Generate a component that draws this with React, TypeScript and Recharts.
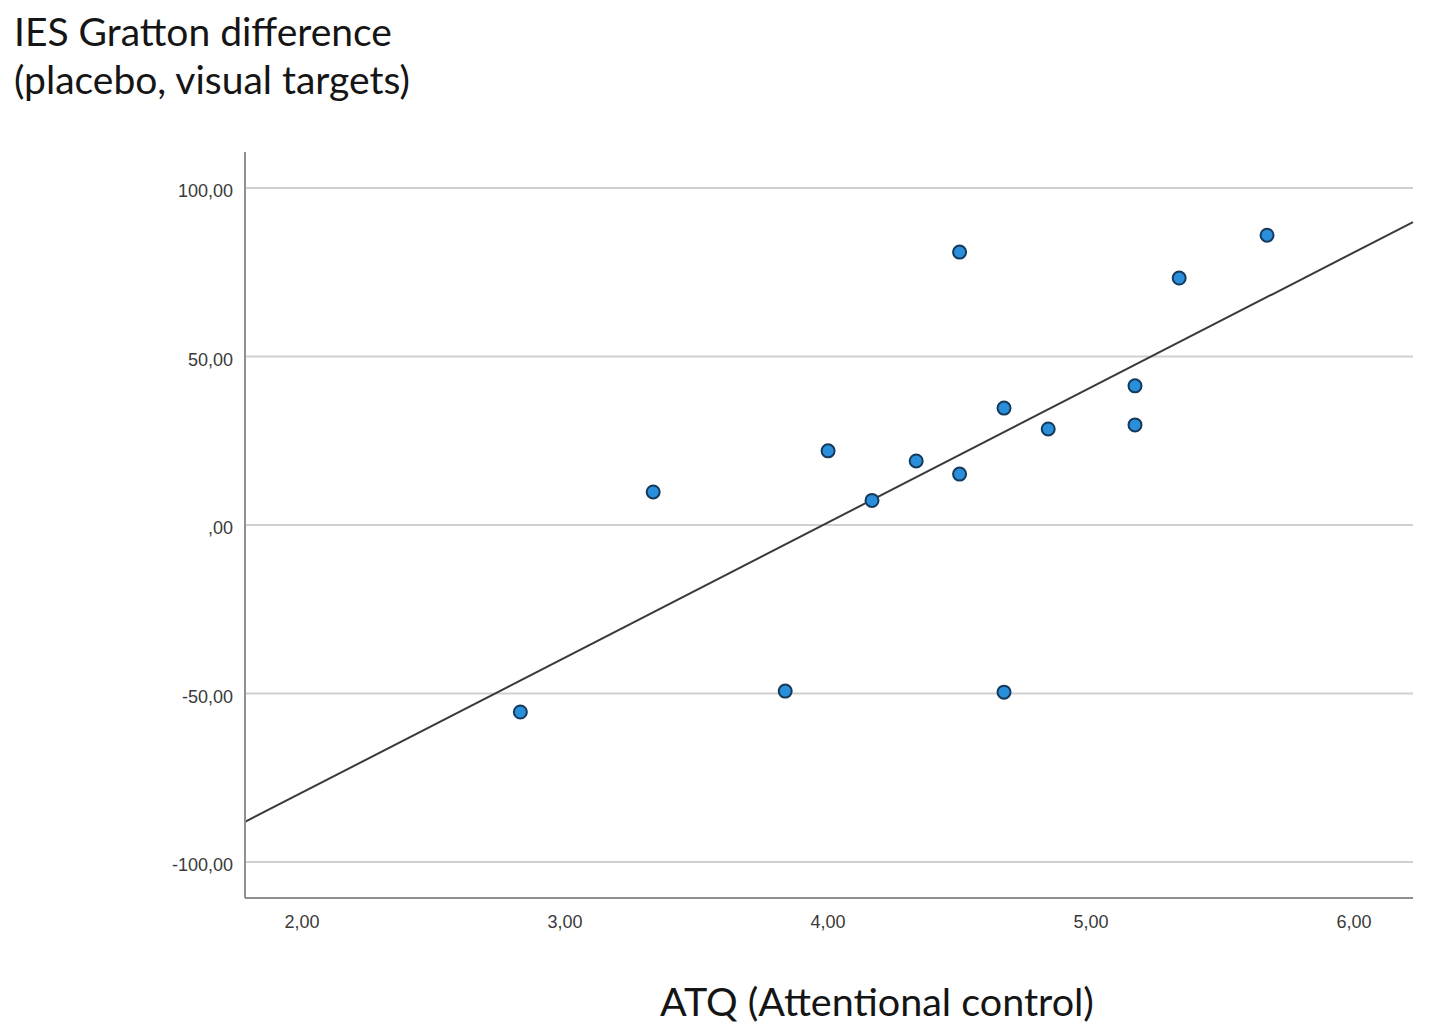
import { ScatterChart, Scatter, XAxis, YAxis, ReferenceLine } from 'recharts'

// ATQ score and IES Gratton difference per participant
const atq = [2.83, 3.335, 3.837, 4.0, 4.167, 4.335, 4.5, 4.5, 4.669, 4.669, 4.837, 5.167, 5.167, 5.335, 5.669]
const iesDiff = [-55.5, 9.8, -49.3, 22.0, 7.3, 19.0, 81.0, 15.1, 34.7, -49.6, 28.5, 41.3, 29.7, 73.3, 86.0]

// fitted regression line, at the edges of the x range
const fitX = [1.783, 6.224]
const fitY = [-88.1, 89.9]

const xTicks = [2, 3, 4, 5, 6]
const yTicks = [-100, -50, 0, 50, 100]

const points = atq.map((x, i) => ({ x, y: iesDiff[i] }))

const fmt = (v: number) => (v === 0 ? ',00' : v.toFixed(2).replace('.', ','))

const Dot = (props: any) => (
  <circle cx={props.cx} cy={props.cy} r={6.5} fill="#2a8fdb" stroke="#163a5c" strokeWidth={2} />
)

const tickStyle = { fill: '#3a3a3a', fontSize: 18, fontFamily: '"Liberation Sans", Arial, sans-serif' }

export default function App() {
  return (
    <div style={{ position: 'absolute', left: 0, top: 0, width: 1429, height: 1029, background: '#fff' }}>
      <div
        style={{
          position: 'absolute',
          left: 14,
          top: 7,
          fontFamily: 'Lato, sans-serif',
          fontSize: 39,
          lineHeight: '48px',
          color: '#151515',
        }}
      >
        IES Gratton difference
        <br />
        (placebo, visual targets)
      </div>
      <ScatterChart width={1429} height={1029} margin={{ top: 152, left: 185, right: 16, bottom: 91 }}>
        {yTicks.map((t) => (
          <ReferenceLine key={t} y={t} stroke="#d0d0d0" strokeWidth={2} />
        ))}
        <XAxis
          type="number"
          dataKey="x"
          domain={[fitX[0], fitX[1]]}
          ticks={xTicks}
          allowDataOverflow
          tickFormatter={fmt}
          height={40}
          tickLine={false}
          tickMargin={11}
          axisLine={{ stroke: '#8f8f8f', strokeWidth: 2 }}
          tick={tickStyle}
        />
        <YAxis
          type="number"
          dataKey="y"
          domain={[-110.7, 110.7]}
          ticks={yTicks}
          allowDataOverflow
          tickFormatter={fmt}
          width={60}
          tickLine={false}
          tickMargin={6}
          axisLine={{ stroke: '#8f8f8f', strokeWidth: 2 }}
          tick={{ ...tickStyle, dy: 3 }}
        />
        <ReferenceLine
          segment={[
            { x: fitX[0], y: fitY[0] },
            { x: fitX[1], y: fitY[1] },
          ]}
          stroke="#3a3a3a"
          strokeWidth={2}
          ifOverflow="visible"
        />
        <Scatter data={points} shape={Dot} isAnimationActive={false} />
      </ScatterChart>
      <div
        style={{
          position: 'absolute',
          left: 0,
          width: 1754,
          top: 977,
          textAlign: 'center',
          fontFamily: 'Lato, sans-serif',
          fontSize: 39.5,
          color: '#151515',
        }}
      >
        ATQ (Attentional control)
      </div>
    </div>
  )
}
